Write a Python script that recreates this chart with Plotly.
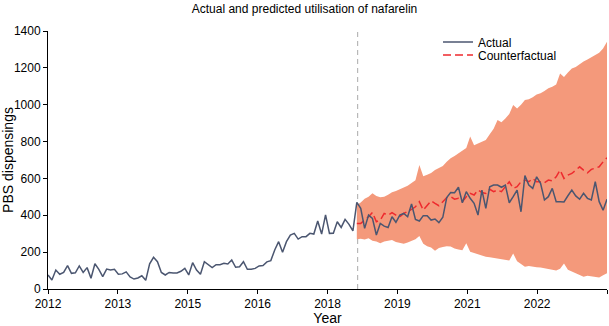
import plotly.graph_objects as go

# Monthly PBS dispensings, month index 0 = Jan 2012 ... 143 = Dec 2023
actual = [76, 49, 103, 80, 90, 127, 85, 88, 125, 90, 116, 58, 137, 107, 67, 108, 103, 107, 80, 82,
          93, 65, 54, 60, 72, 47, 137, 172, 148, 90, 76, 90, 87, 87, 96, 112, 76, 143, 103, 80,
          148, 130, 116, 132, 132, 139, 136, 157, 118, 121, 148, 107, 107, 112, 125, 127, 147, 154, 212, 257,
          199, 257, 293, 302, 271, 284, 284, 302, 298, 369, 298, 402, 302, 303, 365, 334, 378, 351, 315, 470,
          438, 329, 401, 383, 293, 356, 341, 334, 392, 362, 401, 410, 392, 461, 378, 369, 398, 398, 374, 380,
          360, 389, 496, 524, 522, 552, 468, 528, 492, 465, 401, 537, 438, 555, 564, 564, 552, 564, 468, 501,
          537, 419, 615, 564, 546, 609, 573, 483, 501, 546, 474, 474, 472, 506, 537, 505, 487, 519, 492, 483,
          582, 474, 428, 487]

forecast_start = 79  # first month of the counterfactual
intervention = 79.2  # position of the dashed reference line

counterfactual = [356, 356, 374, 392, 416, 365, 374, 410, 401, 414, 401, 392, 410, 419, 432, 446, 474, 428, 456, 479,
                  465, 452, 474, 496, 501, 487, 492, 474, 501, 519, 510, 537, 524, 519, 541, 528, 537, 528, 555, 582,
                  546, 555, 582, 591, 582, 600, 582, 582, 577, 591, 587, 609, 645, 600, 618, 627, 645, 663, 645, 631,
                  649, 654, 663, 690, 712]

upper = [456, 470, 490, 500, 519, 505, 498, 501, 512, 525, 532, 540, 548, 560, 575, 590, 673, 612, 620, 630,
         646, 655, 668, 690, 709, 722, 735, 748, 765, 827, 780, 790, 800, 809, 840, 870, 917, 905, 925, 950,
         998, 980, 1000, 1025, 1030, 1040, 1055, 1062, 1075, 1090, 1098, 1110, 1170, 1150, 1175, 1197, 1205, 1220, 1234, 1245,
         1258, 1270, 1282, 1305, 1342]

lower = [270, 272, 268, 275, 262, 258, 248, 258, 262, 266, 255, 250, 245, 252, 262, 270, 288, 245, 232, 225,
         208, 222, 228, 232, 230, 220, 215, 210, 248, 202, 195, 188, 182, 175, 172, 168, 166, 160, 158, 155,
         193, 150, 135, 121, 125, 120, 118, 117, 112, 108, 103, 100, 110, 139, 105, 95, 85, 78, 67, 72,
         70, 65, 63, 75, 85]

tick_labels = ["2012", "2013", "2015", "2016", "2018", "2019", "2021", "2022", ""]
y_ticks = [0, 200, 400, 600, 800, 1000, 1200, 1400]

x_actual = list(range(len(actual)))
x_fc = list(range(forecast_start, forecast_start + len(counterfactual)))
n_last = len(actual) - 1
tick_vals = [n_last * k / (len(tick_labels) - 1) for k in range(len(tick_labels))]

FONT = "Liberation Sans, Arial, sans-serif"

fig = go.Figure()
fig.add_trace(go.Scatter(x=x_fc, y=lower, mode="lines", line=dict(width=0, color="rgba(0,0,0,0)"),
                         showlegend=False, hoverinfo="skip"))
fig.add_trace(go.Scatter(x=x_fc, y=upper, mode="lines", line=dict(width=0, color="rgba(0,0,0,0)"),
                         fill="tonexty", fillcolor="#F4997B", showlegend=False, hoverinfo="skip"))
fig.add_trace(go.Scatter(x=x_fc, y=counterfactual, mode="lines", name="Counterfactual",
                         line=dict(color="#EE2A2E", width=1.5, dash="8px,4px"), legend="legend2"))
fig.add_trace(go.Scatter(x=x_actual, y=actual, mode="lines", name="Actual",
                         line=dict(color="#4B5670", width=1.5), legend="legend"))

fig.add_shape(type="line", x0=intervention, x1=intervention, y0=0, y1=1400, xref="x", yref="y",
              line=dict(color="#B8B8B8", width=1.2, dash="5px,4px"), layer="below")

legend_common = dict(xanchor="left", yanchor="middle", bgcolor="rgba(0,0,0,0)",
                     font=dict(size=12, family=FONT), itemwidth=30)

fig.update_layout(
    width=609, height=326,
    margin=dict(l=48, r=2, t=31, b=37, autoexpand=False),
    paper_bgcolor="white", plot_bgcolor="white",
    font=dict(family=FONT, size=12, color="black"),
    title=dict(text="Actual and predicted utilisation of nafarelin", x=0.5, xanchor="center",
               y=0.985, yanchor="top", font=dict(size=12, family=FONT, color="black")),
    legend=dict(x=0.6977, y=0.957, **legend_common),
    legend2=dict(x=0.6977, y=0.907, **legend_common),
    showlegend=True,
)
fig.update_xaxes(range=[0, n_last], tickmode="array", tickvals=tick_vals, ticktext=tick_labels,
                 showgrid=False, zeroline=False, showline=True, linecolor="black", linewidth=1,
                 ticks="outside", ticklen=4, tickcolor="black", automargin=False,
                 title=dict(text="Year", font=dict(size=14, family=FONT), standoff=2),
                 tickfont=dict(size=12, family=FONT))
fig.update_yaxes(range=[0, 1400], tickmode="array", tickvals=y_ticks,
                 showgrid=False, zeroline=False, showline=True, linecolor="black", linewidth=1,
                 ticks="outside", ticklen=4, tickcolor="black", automargin=False,
                 title=dict(text="PBS dispensings", font=dict(size=14, family=FONT), standoff=0),
                 tickfont=dict(size=12, family=FONT))

fig.write_html("out.html", post_script="document.body.style.margin='0';",
               config={"displayModeBar": False})
